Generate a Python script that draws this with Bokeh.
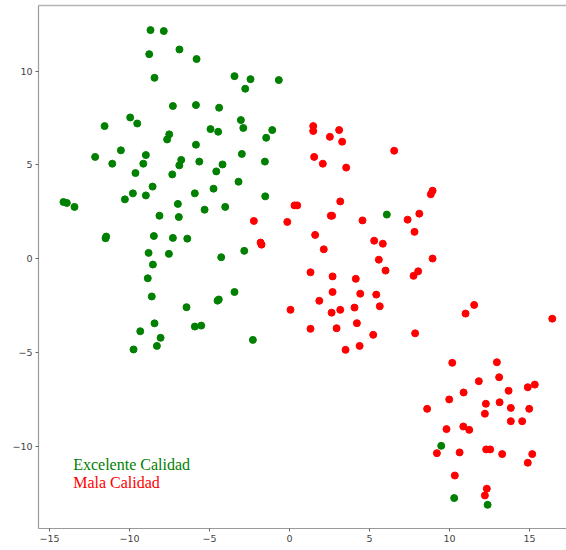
from bokeh.plotting import figure
from bokeh.models import ColumnDataSource, Label, LinearAxis, Range1d, FixedTicker
from bokeh.embed import file_html
from bokeh.resources import INLINE

# ---- data ----
green_x = [-8.69, -7.86, -6.88, -8.77, -5.81, -8.44, -3.44, -2.44, -2.77, -0.67,
           -7.29, -5.85, -4.40, -9.96, -9.52, -11.56, -3.04, -2.89, -4.94, -4.46,
           -7.52, -7.65, -1.08, -1.46, -5.85, -10.54, -12.15, -8.98, -11.08, -9.14,
           -6.77, -6.89, -5.64, -2.98, -1.54, -4.19, -4.58, -9.63, -7.33, -3.19,
           -8.56, -4.75, -9.79, -8.98, -5.92, -10.29, -1.52, -14.13, -13.92, -13.44,
           -6.98, -5.31, -4.02, -8.13, -6.92, -11.46, -11.50, -8.48, -7.29, -6.39,
           -8.81, -7.54, -2.83, -4.27, -8.54, -8.86, -8.61, -3.44, -4.42, -4.50,
           -6.44, -8.44, -9.33, -5.92, -5.52, -8.06, -8.29, -9.75, -2.29, 6.08,
           9.48, 10.29, 12.38]
green_y = [12.18, 12.13, 11.15, 10.90, 10.64, 9.64, 9.73, 9.57, 9.06, 9.52,
           8.14, 8.19, 8.05, 7.53, 7.21, 7.07, 7.39, 6.97, 6.91, 6.77,
           6.63, 6.36, 6.86, 6.45, 6.08, 5.78, 5.43, 5.53, 5.07, 5.07,
           5.27, 4.98, 5.18, 5.59, 5.18, 5.03, 4.66, 4.57, 4.50, 4.11,
           3.85, 3.74, 3.49, 3.38, 3.49, 3.17, 3.33, 3.03, 2.98, 2.77,
           2.93, 2.62, 2.77, 2.30, 2.23, 1.19, 1.10, 1.22, 1.12, 1.08,
           0.32, 0.27, 0.43, 0.09, -0.30, -1.03, -2.00, -1.76, -2.16, -2.22,
           -2.57, -3.43, -3.85, -3.60, -3.55, -4.20, -4.63, -4.82, -4.31, 2.36,
           -9.95, -12.73, -13.09]

red_x = [-2.23, -0.14, -1.81, -1.75, 0.31, 0.48, 0.06, 1.48, 1.48, 3.10,
         2.52, 3.29, 6.54, 1.54, 2.08, 3.54, 8.94, 8.83, 3.17, 2.58,
         2.66, 4.56, 7.38, 8.11, 7.81, 1.60, 2.14, 5.29, 5.83, 5.58,
         8.94, 6.00, 8.04, 7.75, 1.31, 2.69, 4.14, 2.69, 4.42, 5.42,
         1.86, 5.64, 4.06, 3.17, 2.63, 11.54, 11.00, 16.42, 4.21, 1.31,
         2.94, 7.85, 5.23, 4.38, 3.50, 10.17, 12.96, 11.83, 13.10, 15.33,
         14.89, 13.69, 10.88, 9.98, 12.27, 13.13, 8.60, 13.83, 14.98, 12.21,
         13.83, 14.54, 9.81, 10.86, 11.23, 12.29, 12.54, 9.21, 10.63, 13.29,
         15.17, 14.89, 10.33, 12.33, 12.21]
red_y = [2.02, 1.97, 0.87, 0.76, 2.85, 2.85, -2.71, 7.07, 6.81, 6.86,
         6.50, 6.24, 5.76, 5.43, 5.07, 4.86, 3.63, 3.44, 3.06, 2.30,
         2.30, 2.05, 2.09, 2.41, 1.44, 1.28, 0.51, 0.97, 0.81, -0.04,
         0.02, -0.62, -0.66, -0.90, -0.71, -0.93, -1.06, -1.76, -1.85, -1.90,
         -2.23, -2.52, -2.59, -2.71, -2.86, -2.45, -2.91, -3.18, -3.42, -3.72,
         -3.69, -3.96, -4.04, -4.63, -4.84, -5.53, -5.50, -6.51, -6.30, -6.69,
         -6.83, -7.02, -7.11, -7.48, -7.71, -7.63, -7.98, -7.93, -7.98, -8.24,
         -8.64, -8.64, -9.06, -8.92, -9.10, -10.14, -10.14, -10.34, -10.30, -10.39,
         -10.39, -10.85, -11.53, -12.23, -12.59]

x_ticks = [-15, -10, -5, 0, 5, 10, 15]
x_tick_labels = ["\u221215", "\u221210", "\u22125", "0", "5", "10", "15"]
y_ticks = [-10, -5, 0, 5, 10]
y_tick_labels = ["\u221210", "\u22125", "0", "5", "10"]

labels = ["Excelente Calidad", "Mala Calidad"]
label_colors = ["green", "red"]

# ---- figure ----
p = figure(width=566, height=550, output_backend="svg", toolbar_location=None,
           x_range=Range1d(-15.69, 17.31), y_range=Range1d(-14.35, 13.49),
           min_border_left=38, min_border_right=0, min_border_top=5, min_border_bottom=22,
           x_axis_location=None, y_axis_location=None)
p.outline_line_color = None
p.xgrid.visible = False
p.ygrid.visible = False
p.background_fill_color = "white"
p.border_fill_color = "white"

spine = "#9a9a9a"
tick_font = "DejaVu Sans"

xa = LinearAxis(ticker=FixedTicker(ticks=x_ticks),
                major_label_overrides=dict(zip(x_ticks, x_tick_labels)))
ya = LinearAxis(ticker=FixedTicker(ticks=y_ticks),
                major_label_overrides=dict(zip(y_ticks, y_tick_labels)))
for ax in (xa, ya):
    ax.axis_line_color = spine
    ax.axis_line_width = 1.2
    ax.major_tick_line_color = "#666666"
    ax.major_tick_out = 3
    ax.major_tick_in = 0
    ax.minor_tick_line_color = None
    ax.major_label_text_font = tick_font
    ax.major_label_text_font_size = "9.5px"
    ax.major_label_text_color = "#444444"
    ax.major_label_standoff = 3
p.add_layout(xa, "below")
p.add_layout(ya, "left")

top = LinearAxis(ticker=FixedTicker(ticks=[]), major_label_text_font_size="0px")
top.axis_line_color = "#b5b5b5"
top.axis_line_width = 1.5
top.major_tick_line_color = None
top.minor_tick_line_color = None
p.add_layout(top, "above")

gsrc = ColumnDataSource(dict(x=green_x, y=green_y))
rsrc = ColumnDataSource(dict(x=red_x, y=red_y))
p.scatter("x", "y", source=gsrc, size=7, fill_color="green", line_color="green")
p.scatter("x", "y", source=rsrc, size=7, fill_color="red", line_color="red")

for i, (t, c) in enumerate(zip(labels, label_colors)):
    p.add_layout(Label(x=34.7, y=64.5 - 18.4 * i, x_units="screen", y_units="screen",
                       text=t, text_color=c, text_font="Liberation Serif",
                       text_font_size="16px", text_baseline="alphabetic"))

open("out.html", "w").write(file_html(p, INLINE))
